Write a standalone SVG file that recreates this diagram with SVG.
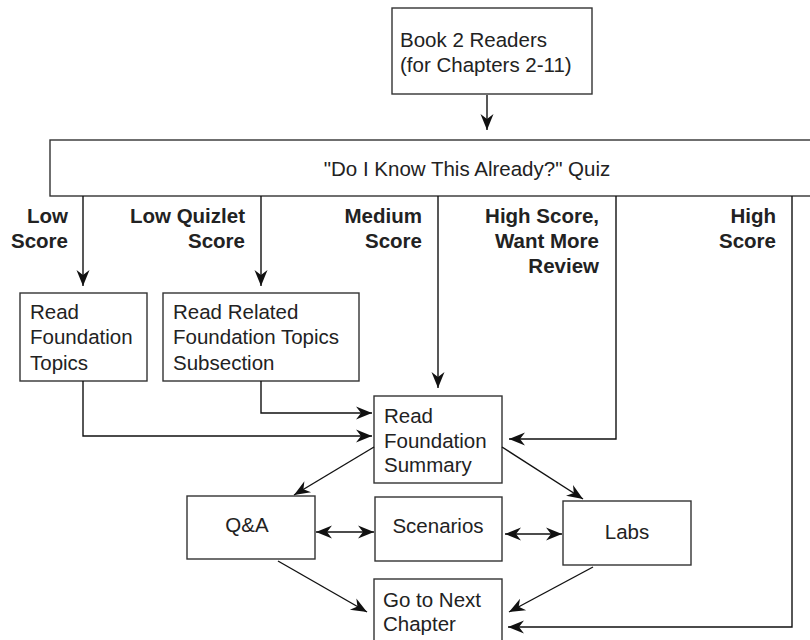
<svg xmlns="http://www.w3.org/2000/svg" width="810" height="640" viewBox="0 0 810 640">
<style>
.box{fill:#fff;stroke:#333;stroke-width:1.4}
.t{font-family:"Liberation Sans",Arial,sans-serif;font-size:20.5px;fill:#222}
.b{font-family:"Liberation Sans",Arial,sans-serif;font-size:20.5px;font-weight:bold;fill:#222;text-anchor:end}
.c{fill:none;stroke:#111;stroke-width:1.4}
.m{text-anchor:middle}
</style>
<defs>
<marker id="a" viewBox="-17 -8 18 16" refX="0" refY="0" markerWidth="18" markerHeight="16" orient="auto-start-reverse" markerUnits="userSpaceOnUse">
<path d="M0,0 L-16,-6.5 L-11,0 L-16,6.5 Z" fill="#111"/>
</marker>
</defs>
<rect width="810" height="640" fill="#fff"/>
<g id="book"><rect class="box" x="392" y="8" width="200" height="86"/>
<text class="t" x="400" y="47">Book 2 Readers</text>
<text class="t" x="400" y="72">(for Chapters 2-11)</text></g>
<g id="quiz"><rect class="box" x="50" y="140" width="790" height="56"/>
<text class="t m" x="467" y="176">"Do I Know This Already?" Quiz</text></g>
<g id="topics"><rect class="box" x="20" y="293" width="127" height="88"/>
<text class="t" x="30" y="319">Read</text><text class="t" x="30" y="344">Foundation</text><text class="t" x="30" y="370">Topics</text></g>
<g id="related"><rect class="box" x="163" y="293" width="196" height="88"/>
<text class="t" x="173" y="319">Read Related</text><text class="t" x="173" y="344">Foundation Topics</text><text class="t" x="173" y="370">Subsection</text></g>
<g id="summary"><rect class="box" x="374" y="396" width="128" height="87"/>
<text class="t" x="384" y="423">Read</text><text class="t" x="384" y="448">Foundation</text><text class="t" x="384" y="472">Summary</text></g>
<g id="qa"><rect class="box" x="187" y="496" width="128" height="63"/>
<text class="t m" x="247" y="532">Q&amp;A</text></g>
<g id="scenarios"><rect class="box" x="375" y="497" width="127" height="64"/>
<text class="t m" x="438" y="533">Scenarios</text></g>
<g id="labs"><rect class="box" x="563" y="501" width="128" height="64"/>
<text class="t m" x="627" y="539">Labs</text></g>
<g id="next"><rect class="box" x="374" y="579" width="128" height="70"/>
<text class="t" x="383" y="607">Go to Next</text><text class="t" x="383" y="631">Chapter</text></g>
<g id="labels">
<text class="b" x="68" y="223">Low</text><text class="b" x="68" y="248">Score</text>
<text class="b" x="245" y="223">Low Quizlet</text><text class="b" x="245" y="248">Score</text>
<text class="b" x="422" y="223">Medium</text><text class="b" x="422" y="248">Score</text>
<text class="b" x="599" y="223">High Score,</text><text class="b" x="599" y="248">Want More</text><text class="b" x="599" y="273">Review</text>
<text class="b" x="776" y="223">High</text><text class="b" x="776" y="248">Score</text>
</g>
<g id="connectors">
<path class="c" d="M487,95 L487,130" marker-end="url(#a)"/>
<path class="c" d="M83,196 L83,286" marker-end="url(#a)"/>
<path class="c" d="M261,196 L261,286" marker-end="url(#a)"/>
<path class="c" d="M438,196 L438,388" marker-end="url(#a)"/>
<path class="c" d="M616,196 L616,439 L509,439" marker-end="url(#a)"/>
<path class="c" d="M792,196 L792,627 L508,627" marker-end="url(#a)"/>
<path class="c" d="M83,381 L83,436 L372,436" marker-end="url(#a)"/>
<path class="c" d="M261,381 L261,413 L372,413" marker-end="url(#a)"/>
<path class="c" d="M374,447 L294,495" marker-end="url(#a)"/>
<path class="c" d="M502,447 L583,499" marker-end="url(#a)"/>
<path class="c" d="M316,532 L374,532" marker-start="url(#a)" marker-end="url(#a)"/>
<path class="c" d="M505,534 L562,534" marker-start="url(#a)" marker-end="url(#a)"/>
<path class="c" d="M278,561 L367,612" marker-end="url(#a)"/>
<path class="c" d="M593,567 L509,612" marker-end="url(#a)"/>
</g>
</svg>
